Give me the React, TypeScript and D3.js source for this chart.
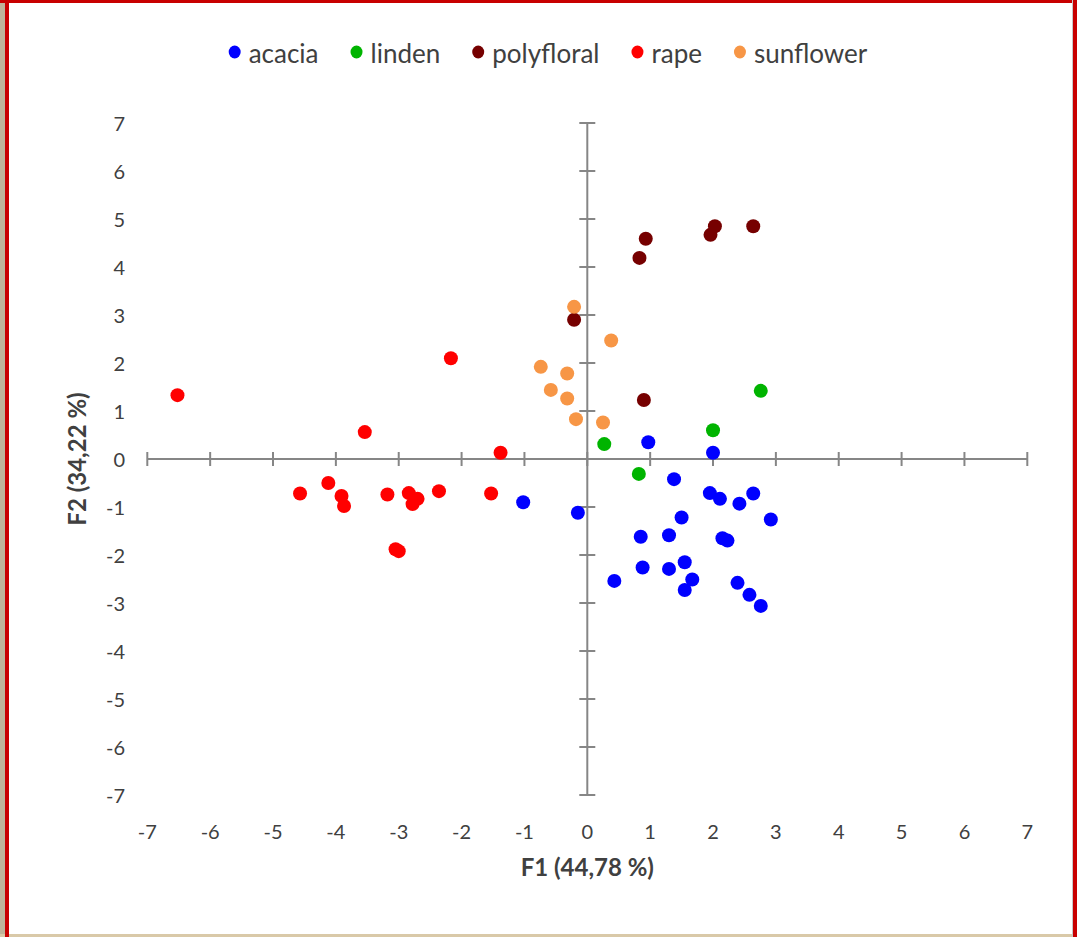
import { useEffect, useRef } from 'react';
import * as d3 from 'd3';

// PCA scores, one pair of arrays per honey type
const acaciaF1 = [-1.02, -0.15, 0.97, 2.0, 1.38, 1.95, 2.11, 2.42, 2.64, 2.92, 1.5, 0.85, 1.3, 2.15, 2.23, 0.88, 1.3, 1.55, 1.67, 1.55, 0.43, 2.39, 2.58, 2.76];
const acaciaF2 = [-0.9, -1.12, 0.35, 0.13, -0.42, -0.71, -0.83, -0.93, -0.72, -1.26, -1.22, -1.62, -1.59, -1.65, -1.7, -2.26, -2.29, -2.15, -2.51, -2.73, -2.54, -2.58, -2.83, -3.06];

const lindenF1 = [0.27, 2.0, 0.82, 2.76];
const lindenF2 = [0.31, 0.6, -0.31, 1.42];

const polyfloralF1 = [2.03, 1.96, 2.64, 0.93, 0.83, -0.21, 0.9];
const polyfloralF2 = [4.85, 4.67, 4.85, 4.59, 4.19, 2.9, 1.23];

const rapeF1 = [-6.52, -2.17, -3.54, -1.38, -4.57, -4.12, -3.91, -3.87, -3.18, -2.84, -2.7, -2.78, -2.36, -1.53, -3.05, -3.0];
const rapeF2 = [1.33, 2.1, 0.56, 0.13, -0.72, -0.5, -0.77, -0.98, -0.74, -0.71, -0.83, -0.94, -0.67, -0.72, -1.88, -1.92];

const sunflowerF1 = [-0.21, 0.38, -0.74, -0.32, -0.58, -0.32, -0.18, 0.25];
const sunflowerF2 = [3.17, 2.47, 1.92, 1.78, 1.44, 1.26, 0.83, 0.76];

const seriesNames = ['acacia', 'linden', 'polyfloral', 'rape', 'sunflower'];
const seriesColors = ['#0000ff', '#00b400', '#760000', '#ff0000', '#f79646'];
const seriesF1 = [acaciaF1, lindenF1, polyfloralF1, rapeF1, sunflowerF1];
const seriesF2 = [acaciaF2, lindenF2, polyfloralF2, rapeF2, sunflowerF2];

const axisTicks = [-7, -6, -5, -4, -3, -2, -1, 0, 1, 2, 3, 4, 5, 6, 7];
const xTitle = 'F1 (44,78 %)';
const yTitle = 'F2 (34,22 %)';

const W = 1077;
const H = 937;
const FONT = 'Lato, "Open Sans", sans-serif';

export default function App() {
  const ref = useRef<SVGSVGElement>(null);

  useEffect(() => {
    const el = ref.current;
    if (!el) return;
    const svg = d3.select(el);
    svg.selectAll('*').remove();

    // frame like the screenshot: tan strip on the left, red border
    svg.append('rect').attr('width', W).attr('height', H).attr('fill', '#ffffff');
    svg.append('rect').attr('x', 0).attr('y', 0).attr('width', 5).attr('height', H).attr('fill', '#bfb49a');
    svg.append('rect').attr('x', 0).attr('y', 934).attr('width', W).attr('height', 3).attr('fill', '#d9c9a8');
    svg.append('rect').attr('x', 5).attr('y', 0).attr('width', 4).attr('height', H).attr('fill', '#c80000');
    svg.append('rect').attr('x', 0).attr('y', 0).attr('width', W).attr('height', 3).attr('fill', '#c80000');
    svg.append('rect').attr('x', 1072).attr('y', 0).attr('width', 1).attr('height', H).attr('fill', '#c8c8c8');
    svg.append('rect').attr('x', 1073).attr('y', 0).attr('width', 4).attr('height', H).attr('fill', '#c80000');

    const x = d3.scaleLinear().domain([-7, 7]).range([147.3, 1027.3]);
    const y = d3.scaleLinear().domain([-7, 7]).range([795, 123]);
    const axisColor = '#868686';

    // axes crossing at the origin, ticks on both sides
    const g = svg.append('g');
    g.append('line')
      .attr('x1', x(-7)).attr('x2', x(7)).attr('y1', y(0)).attr('y2', y(0))
      .attr('stroke', axisColor).attr('stroke-width', 2);
    g.append('line')
      .attr('x1', x(0)).attr('x2', x(0)).attr('y1', y(-7)).attr('y2', y(7))
      .attr('stroke', axisColor).attr('stroke-width', 2);
    g.selectAll('line.xt').data(axisTicks).join('line')
      .attr('class', 'xt')
      .attr('x1', (d) => x(d)).attr('x2', (d) => x(d))
      .attr('y1', y(0) - 7).attr('y2', y(0) + 7)
      .attr('stroke', axisColor).attr('stroke-width', 2);
    g.selectAll('line.yt').data(axisTicks).join('line')
      .attr('class', 'yt')
      .attr('x1', x(0) - 8).attr('x2', x(0) + 8)
      .attr('y1', (d) => y(d)).attr('y2', (d) => y(d))
      .attr('stroke', axisColor).attr('stroke-width', 2);

    // tick labels sit on the outer edge of the plot
    g.selectAll('text.xl').data(axisTicks).join('text')
      .attr('class', 'xl')
      .attr('x', (d) => x(d)).attr('y', 831)
      .attr('text-anchor', 'middle').attr('dominant-baseline', 'central')
      .attr('font-family', FONT).attr('font-size', 20).attr('fill', '#404040')
      .text((d) => String(d));
    g.selectAll('text.yl').data(axisTicks).join('text')
      .attr('class', 'yl')
      .attr('x', 125).attr('y', (d) => y(d))
      .attr('text-anchor', 'end').attr('dominant-baseline', 'central')
      .attr('font-family', FONT).attr('font-size', 20).attr('fill', '#404040')
      .text((d) => String(d));

    svg.append('text')
      .attr('x', x(0)).attr('y', 876)
      .attr('text-anchor', 'middle')
      .attr('font-family', FONT).attr('font-size', 24).attr('font-weight', 'bold').attr('fill', '#404040')
      .text(xTitle);
    svg.append('text')
      .attr('transform', `translate(86,${y(0)}) rotate(-90)`)
      .attr('text-anchor', 'middle')
      .attr('font-family', FONT).attr('font-size', 24).attr('font-weight', 'bold').attr('fill', '#404040')
      .text(yTitle);

    // points
    seriesNames.forEach((name, i) => {
      const pts = seriesF1[i].map((v, k) => [v, seriesF2[i][k]]);
      svg.append('g').selectAll('circle').data(pts).join('circle')
        .attr('cx', (d) => x(d[0])).attr('cy', (d) => y(d[1]))
        .attr('r', 7).attr('fill', seriesColors[i])
        .append('title').text((d) => `${name}: ${d[0]}, ${d[1]}`);
    });

    // legend, measured then centred
    const legend = svg.append('g');
    const gap = 32;
    let cursor = 0;
    seriesNames.forEach((name, i) => {
      legend.append('ellipse')
        .attr('cx', cursor + 6).attr('cy', 52).attr('rx', 6).attr('ry', 6.5)
        .attr('fill', seriesColors[i]);
      const t = legend.append('text')
        .attr('x', cursor + 20).attr('y', 53)
        .attr('dominant-baseline', 'central')
        .attr('font-family', FONT).attr('font-size', 26).attr('fill', '#404040')
        .text(name);
      const w = (t.node() as SVGTextElement).getComputedTextLength();
      cursor += 20 + w + gap;
    });
    const total = cursor - gap;
    legend.attr('transform', `translate(${548 - total / 2},0)`);
  }, []);

  return (
    <svg
      ref={ref}
      width={W}
      height={H}
      style={{ position: 'absolute', left: 0, top: 0, display: 'block' }}
    />
  );
}
